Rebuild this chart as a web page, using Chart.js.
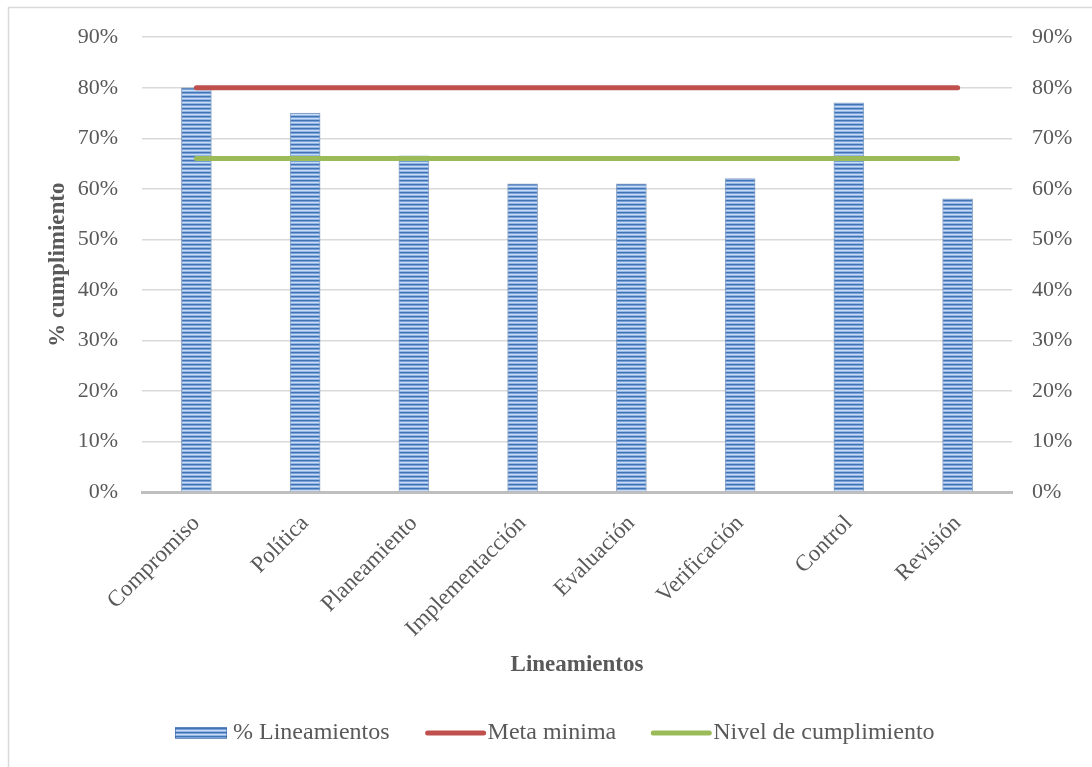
<!DOCTYPE html>
<html>
<head>
<meta charset="utf-8">
<script src="https://cdn.jsdelivr.net/npm/chart.js@4/dist/chart.umd.min.js"></script>
<style>
  html, body { margin: 0; padding: 0; background: #ffffff; }
  #wrap { width: 1092px; height: 767px; position: relative; }
</style>
</head>
<body>
<div id="wrap"><canvas id="chart"></canvas></div>
<script>
// Compliance per guideline, with the minimum target and the achieved level
const categories = ['Compromiso', 'Política', 'Planeamiento', 'Implementacción', 'Evaluación', 'Verificación', 'Control', 'Revisión'];
const lineamientos = [80, 75, 66.5, 61, 61, 62, 77, 58];
const metaMinima = [80, 80, 80, 80, 80, 80, 80, 80];
const nivelCumplimiento = [66, 66, 66, 66, 66, 66, 66, 66];
const yTicks = [0, 10, 20, 30, 40, 50, 60, 70, 80, 90];

const TEXT = '#595959';
const SERIF = "'Liberation Serif', 'Times New Roman', serif";

// Horizontal-striped blue fill for the bars
function stripePattern() {
  const c = document.createElement('canvas');
  c.width = 4; c.height = 4;
  const g = c.getContext('2d');
  const rows = ['#4274b4', '#75a0d9', '#c9dcf4', '#93b6e5'];
  rows.forEach((col, i) => { g.fillStyle = col; g.fillRect(0, i, 4, 1); });
  return g.createPattern(c, 'repeat');
}
const barFill = stripePattern();

// Outer frame and the legend row
const framePlugin = {
  id: 'frame',
  beforeDraw(chart) {
    const ctx = chart.ctx;
    ctx.save();
    ctx.strokeStyle = '#d9d9d9';
    ctx.lineWidth = 1.5;
    ctx.strokeRect(8.5, 7.5, 2000, 2000);
    ctx.restore();
  },
  afterDraw(chart) {
    const ctx = chart.ctx;
    const ds = chart.data.datasets;
    const y = 733;
    ctx.save();
    ctx.font = '24px ' + SERIF;
    ctx.textBaseline = 'middle';
    ctx.textAlign = 'left';
    let x = 175;
    // bar swatch
    ctx.fillStyle = barFill;
    ctx.fillRect(x, y - 6, 52, 12);
    ctx.strokeStyle = 'rgba(60,100,160,0.6)';
    ctx.lineWidth = 1;
    ctx.strokeRect(x + 0.5, y - 5.5, 51, 11);
    x += 58;
    ctx.fillStyle = TEXT;
    ctx.fillText(ds[0].label, x, y);
    x += ctx.measureText(ds[0].label).width + 38;
    // line swatches
    for (let i = 1; i < ds.length; i++) {
      ctx.strokeStyle = ds[i].borderColor;
      ctx.lineWidth = 5;
      ctx.lineCap = 'round';
      ctx.beginPath();
      ctx.moveTo(x, y);
      ctx.lineTo(x + 56, y);
      ctx.stroke();
      x += 60;
      ctx.fillStyle = TEXT;
      ctx.fillText(ds[i].label, x, y);
      x += ctx.measureText(ds[i].label).width + 37;
    }
    ctx.restore();
  }
};

new Chart(document.getElementById('chart'), {
  data: {
    labels: categories,
    datasets: [
      {
        type: 'bar',
        label: '% Lineamientos',
        data: lineamientos,
        backgroundColor: barFill,
        borderColor: 'rgba(50,90,150,0.55)',
        borderWidth: 1,
        barThickness: 30,
        order: 2,
        yAxisID: 'y'
      },
      {
        type: 'line',
        label: 'Meta minima',
        data: metaMinima,
        borderColor: '#c0504d',
        borderWidth: 5,
        borderCapStyle: 'round',
        pointRadius: 0,
        fill: false,
        order: 1,
        yAxisID: 'y'
      },
      {
        type: 'line',
        label: 'Nivel de cumplimiento',
        data: nivelCumplimiento,
        borderColor: '#9bbb59',
        borderWidth: 5,
        borderCapStyle: 'round',
        pointRadius: 0,
        fill: false,
        order: 0,
        yAxisID: 'y'
      }
    ]
  },
  options: {
    responsive: true,
    maintainAspectRatio: false,
    animation: false,
    layout: { padding: { top: 37, bottom: 88, left: 0, right: 0 } },
    plugins: {
      legend: { display: false },
      tooltip: { enabled: false }
    },
    scales: {
      x: {
        offset: true,
        grid: { display: false },
        border: { display: true, color: '#bfbfbf', width: 3 },
        ticks: {
          color: TEXT,
          font: { family: SERIF, size: 23 },
          minRotation: 45,
          maxRotation: 45,
          padding: 10,
          autoSkip: false
        },
        title: {
          display: true,
          text: 'Lineamientos',
          color: TEXT,
          font: { family: SERIF, size: 23, weight: 'bold', lineHeight: 1.2 },
          padding: { top: 0, bottom: 0 }
        },
        afterFit(scale) { scale.height = 187; }
      },
      y: {
        position: 'left',
        min: 0,
        max: 90,
        afterBuildTicks(scale) { scale.ticks = yTicks.map(v => ({ value: v })); },
        grid: { color: '#d9d9d9', lineWidth: 1.5, drawTicks: false },
        border: { display: false },
        ticks: {
          color: TEXT,
          font: { family: SERIF, size: 22 },
          padding: 24,
          callback: v => v + '%'
        },
        title: {
          display: true,
          text: '% cumplimiento',
          color: TEXT,
          font: { family: SERIF, size: 23, weight: 'bold', lineHeight: 1.2 },
          padding: { top: 44, bottom: 0 }
        },
        afterFit(scale) { scale.width = 142; }
      },
      y2: {
        position: 'right',
        min: 0,
        max: 90,
        afterBuildTicks(scale) { scale.ticks = yTicks.map(v => ({ value: v })); },
        grid: { display: false, drawTicks: false },
        border: { display: false },
        ticks: {
          color: TEXT,
          font: { family: SERIF, size: 22 },
          padding: 20,
          callback: v => v + '%'
        },
        afterFit(scale) { scale.width = 80; }
      }
    }
  },
  plugins: [framePlugin]
});
</script>
</body>
</html>
